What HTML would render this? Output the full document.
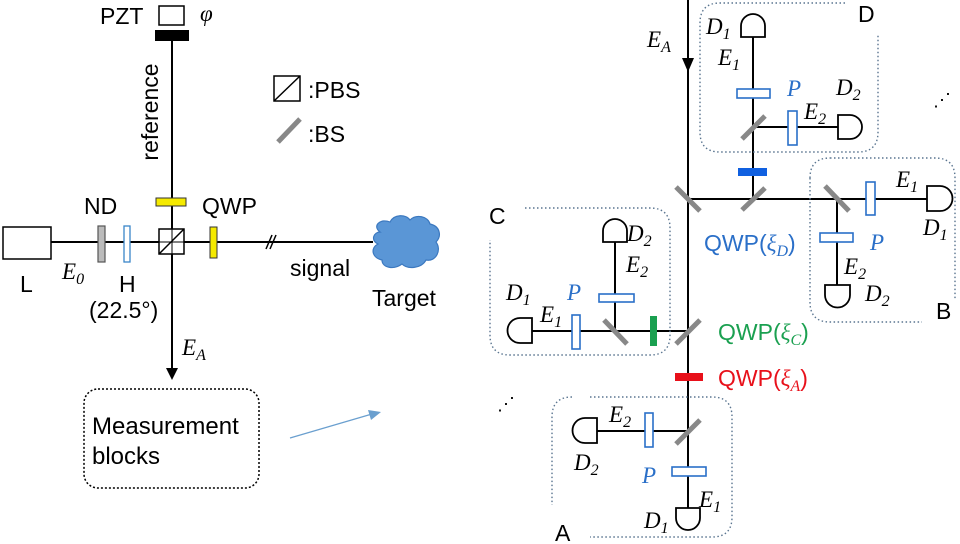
<!DOCTYPE html>
<html><head><meta charset="utf-8"><style>
html,body{margin:0;padding:0;background:#fff;}
svg{display:block;}
text{font-family:"Liberation Sans",sans-serif;}
.m{font-family:"Liberation Serif",serif;font-style:italic;}
</style></head><body>
<svg width="960" height="544" viewBox="0 0 960 544" xmlns="http://www.w3.org/2000/svg">
<g stroke="#000" stroke-width="2" fill="none">
<line x1="51" y1="242" x2="373" y2="242"/>
<line x1="172" y1="40" x2="172" y2="370"/>
<line x1="266" y1="249" x2="272" y2="235" stroke-width="1.5"/>
<line x1="270" y1="249" x2="276" y2="235" stroke-width="1.5"/>
<line x1="688" y1="0" x2="688" y2="508"/>
<line x1="688" y1="199" x2="927" y2="199"/>
<line x1="753" y1="199" x2="753" y2="37"/>
<line x1="753" y1="127" x2="838" y2="127"/>
<line x1="837" y1="199" x2="837" y2="285"/>
<line x1="532" y1="331" x2="688" y2="331"/>
<line x1="615" y1="331" x2="615" y2="242"/>
<line x1="597" y1="431" x2="688" y2="431"/>
</g>
<polygon points="682,58 694,58 688,72" fill="#000"/>
<polygon points="166,368 178,368 172,380" fill="#000"/>
<rect x="3" y="227" width="48" height="32" fill="#fff" stroke="#000" stroke-width="1.5"/>
<rect x="98" y="226" width="7" height="36" fill="#bbb" stroke="#555" stroke-width="1.2"/>
<rect x="124" y="226" width="6" height="36" fill="#fff" stroke="#3a86c8" stroke-width="1.3"/>
<rect x="159" y="229" width="25" height="25" fill="#fff" stroke="#000" stroke-width="1.5"/>
<line x1="159" y1="254" x2="184" y2="229" stroke="#000" stroke-width="1.5"/>
<line x1="172" y1="229" x2="172" y2="254" stroke="#000" stroke-width="1"/>
<line x1="159" y1="242" x2="184" y2="242" stroke="#000" stroke-width="1"/>
<rect x="156" y="198" width="30" height="8" fill="#f5ea00" stroke="#333" stroke-width="1"/>
<rect x="210" y="227" width="7" height="31" fill="#f5ea00" stroke="#333" stroke-width="1"/>
<rect x="155" y="30" width="34" height="11" fill="#000"/>
<rect x="159" y="6" width="25" height="19" fill="#fff" stroke="#000" stroke-width="1.5"/>
<path d="M380,232 C372,226 380,218 390,222 C394,214 406,214 410,220 C416,214 428,216 430,224 C440,226 442,236 436,242 C442,250 436,262 426,260 C422,268 408,270 402,264 C394,270 382,268 382,260 C372,258 370,248 378,244 C370,240 374,232 380,232 Z" fill="#5a96d6" stroke="#3b78bf" stroke-width="1.2"/>
<rect x="274" y="76" width="26" height="25" fill="#fff" stroke="#000" stroke-width="1.5"/>
<line x1="274" y1="101" x2="300" y2="76" stroke="#000" stroke-width="1.5"/>
<line x1="278" y1="142" x2="300" y2="119" stroke="#888" stroke-width="5"/>
<rect x="84" y="389" width="175" height="99" rx="14" fill="none" stroke="#000" stroke-width="1.5" stroke-dasharray="2,2"/>
<line x1="290" y1="438" x2="372" y2="414" stroke="#6a9fcf" stroke-width="1.2"/>
<polygon points="381,412 368,410 371,420" fill="#6a9fcf"/>
<g font-size="23">
<text x="100" y="24">PZT</text>
<text transform="translate(158,112) rotate(-90)" text-anchor="middle">reference</text>
<text x="308" y="98">:PBS</text>
<text x="308" y="142">:BS</text>
<text x="84" y="214">ND</text>
<text x="202" y="214">QWP</text>
<text x="20" y="292">L</text>
<text x="119" y="292">H</text>
<text x="89" y="318" font-family="Liberation Serif">(22.5°)</text>
<text x="290" y="276">signal</text>
<text x="372" y="306">Target</text>
<text x="92" y="434" font-size="24">Measurement</text>
<text x="92" y="464" font-size="24">blocks</text>
</g>
<g font-size="23" class="m">
<text x="200" y="21" class="m">φ</text>
<text x="62" y="279" class="m">E<tspan font-size="16" dy="5">0</tspan></text>
<text x="182" y="355" class="m">E<tspan font-size="16" dy="5">A</tspan></text>
</g>
<g fill="none" stroke="#5a7590" stroke-width="1.4" stroke-dasharray="1.5,2.5">
<path d="M845,3 H720 Q700,3 700,23 V132 Q700,152 720,152 H858 Q878,152 878,132 V35"/>
<path d="M830,158 H935 Q955,158 955,178 V300"/>
<path d="M810,178 Q810,158 830,158 M810,178 V302 Q810,322 830,322 H922"/>
<path d="M525,208 H650 Q670,208 670,228 V335 Q670,355 650,355 H510 Q490,355 490,335 V240"/>
<path d="M590,397 H712 Q732,397 732,417 V517 Q732,537 712,537 H590"/>
<path d="M572,397 Q552,397 552,417 V505"/>
</g>
<g stroke="#888" stroke-width="5">
<line x1="676" y1="187" x2="700" y2="211"/>
<line x1="742" y1="210" x2="765" y2="188"/>
<line x1="742" y1="139" x2="765" y2="116"/>
<line x1="825" y1="186" x2="849" y2="211"/>
<line x1="676" y1="344" x2="700" y2="320"/>
<line x1="604" y1="320" x2="627" y2="344"/>
<line x1="676" y1="444" x2="700" y2="420"/>
</g>
<rect x="738" y="168" width="29" height="8" fill="#1060e0"/>
<rect x="650" y="316" width="7" height="30" fill="#1aa050"/>
<rect x="675" y="373" width="28" height="8" fill="#e8101a"/>
<g fill="#fff" stroke="#2a6fc8" stroke-width="1.6">
<rect x="737" y="89" width="33" height="9"/>
<rect x="788" y="111" width="9" height="34"/>
<rect x="866" y="182" width="9" height="33"/>
<rect x="820" y="233" width="33" height="9"/>
<rect x="599" y="294" width="35" height="8"/>
<rect x="572" y="315" width="8" height="34"/>
<rect x="645" y="413" width="8" height="34"/>
<rect x="672" y="467" width="34" height="9"/>
</g>
<g fill="#fff" stroke="#000" stroke-width="1.8">
<path d="M741,37 V26 A12,12 0 0 1 765,26 V37 Z"/>
<path d="M838,115 H850 A12,12 0 0 1 850,139 H838 Z"/>
<path d="M927,186 H940 A12,12 0 0 1 940,211 H927 Z"/>
<path d="M825,285 H850 V295 A12,12 0 0 1 825,295 Z"/>
<path d="M603,242 V231 A12,12 0 0 1 627,231 V242 Z"/>
<path d="M532,318 H520 A12,12 0 0 0 520,343 H532 Z"/>
<path d="M597,418 H585 A12,12 0 0 0 585,443 H597 Z"/>
<path d="M676,508 H700 V518 A12,12 0 0 1 676,518 Z"/>
</g>
<g font-size="23">
<text x="647" y="47" class="m">E<tspan font-size="16" dy="5">A</tspan></text>
<text x="706" y="34" class="m">D<tspan font-size="16" dy="5">1</tspan></text>
<text x="718" y="65" class="m">E<tspan font-size="16" dy="5">1</tspan></text>
<text x="787" y="96" class="m" fill="#2a6fc8">P</text>
<text x="836" y="95" class="m">D<tspan font-size="16" dy="5">2</tspan></text>
<text x="804" y="119" class="m">E<tspan font-size="16" dy="5">2</tspan></text>
<text x="858" y="22">D</text>
<text x="933" y="106" font-size="18">⋰</text>
<text x="896" y="187" class="m">E<tspan font-size="16" dy="5">1</tspan></text>
<text x="923" y="235" class="m">D<tspan font-size="16" dy="5">1</tspan></text>
<text x="870" y="250" class="m" fill="#2a6fc8">P</text>
<text x="844" y="274" class="m">E<tspan font-size="16" dy="5">2</tspan></text>
<text x="865" y="301" class="m">D<tspan font-size="16" dy="5">2</tspan></text>
<text x="936" y="319">B</text>
<text x="704" y="251" fill="#2a6fc8">QWP(<tspan class="m">ξ</tspan><tspan class="m" font-size="16" dy="5">D</tspan><tspan dy="-5">)</tspan></text>
<text x="489" y="224">C</text>
<text x="627" y="241" class="m">D<tspan font-size="16" dy="5">2</tspan></text>
<text x="626" y="272" class="m">E<tspan font-size="16" dy="5">2</tspan></text>
<text x="506" y="300" class="m">D<tspan font-size="16" dy="5">1</tspan></text>
<text x="567" y="300" class="m" fill="#2a6fc8">P</text>
<text x="540" y="322" class="m">E<tspan font-size="16" dy="5">1</tspan></text>
<text x="718" y="340" fill="#1aa050">QWP(<tspan class="m">ξ</tspan><tspan class="m" font-size="16" dy="5">C</tspan><tspan dy="-5">)</tspan></text>
<text x="718" y="386" fill="#e8101a">QWP(<tspan class="m">ξ</tspan><tspan class="m" font-size="16" dy="5">A</tspan><tspan dy="-5">)</tspan></text>
<text x="497" y="410" font-size="18">⋰</text>
<text x="609" y="422" class="m">E<tspan font-size="16" dy="5">2</tspan></text>
<text x="574" y="470" class="m">D<tspan font-size="16" dy="5">2</tspan></text>
<text x="642" y="483" class="m" fill="#2a6fc8">P</text>
<text x="699" y="507" class="m">E<tspan font-size="16" dy="5">1</tspan></text>
<text x="644" y="528" class="m">D<tspan font-size="16" dy="5">1</tspan></text>
<text x="555" y="541">A</text>
</g>
</svg>
</body></html>
